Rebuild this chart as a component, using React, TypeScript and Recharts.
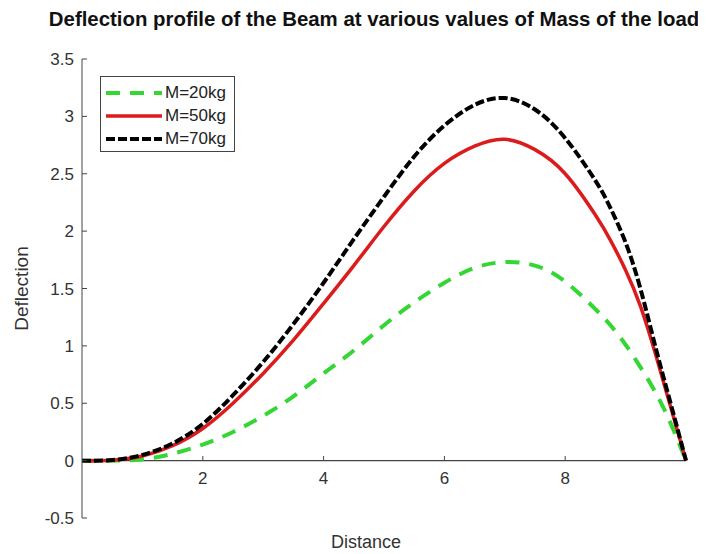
import { LineChart, Line, XAxis, YAxis, ReferenceLine } from 'recharts'

// distance along the beam
const distance = [0, 0.5, 1, 1.5, 2, 2.5, 3, 3.5, 4, 4.5, 5, 5.5, 6, 6.5, 7, 7.5, 8, 8.5, 8.75, 9, 9.25, 9.5, 9.75, 10]

// deflection for each load mass
const deflection20 = [0, 0, 0.01, 0.06, 0.14, 0.25, 0.39, 0.56, 0.76, 0.96, 1.18, 1.38, 1.55, 1.68, 1.73, 1.7, 1.56, 1.32, 1.18, 1.01, 0.81, 0.59, 0.32, 0]
const deflection50 = [0, 0.004, 0.04, 0.13, 0.28, 0.5, 0.76, 1.05, 1.37, 1.7, 2.04, 2.35, 2.59, 2.74, 2.8, 2.71, 2.5, 2.14, 1.92, 1.66, 1.34, 0.92, 0.46, 0]
const deflection70 = [0, 0.005, 0.05, 0.15, 0.32, 0.57, 0.86, 1.19, 1.55, 1.93, 2.3, 2.65, 2.92, 3.1, 3.16, 3.06, 2.81, 2.44, 2.2, 1.9, 1.49, 0.98, 0.49, 0]

const seriesNames = ['M=20kg', 'M=50kg', 'M=70kg']
const xTicks = [2, 4, 6, 8]
const yTicks = [-0.5, 0, 0.5, 1, 1.5, 2, 2.5, 3, 3.5]

const data = distance.map((d, i) => ({
  distance: d,
  m20: deflection20[i],
  m50: deflection50[i],
  m70: deflection70[i]
}))

const series = [
  { key: 'm20', name: seriesNames[0], color: '#33d633', dash: '14 10', width: 4 },
  { key: 'm50', name: seriesNames[1], color: '#dc1c1c', dash: undefined, width: 3.5 },
  { key: 'm70', name: seriesNames[2], color: '#000000', dash: '9 3', width: 4 }
]

const FONT = '"Liberation Sans", Arial, sans-serif'
const AXIS = '#444'
const TEXT = '#333'

// boxed legend in the upper left corner, like MATLAB's
function BoxLegend() {
  return (
    <div
      style={{
        position: 'absolute',
        left: 92,
        top: 68,
        border: '1px solid #444',
        background: '#fff',
        width: 129,
        padding: '4px 0 1px 4px',
        fontFamily: FONT
      }}
    >
      {series.map(s => (
        <div key={s.key} style={{ display: 'flex', alignItems: 'center', height: 23 }}>
          <svg width={58} height={10}>
            <line x1={1} x2={57} y1={5} y2={5} stroke={s.color} strokeWidth={s.width} strokeDasharray={s.dash} />
          </svg>
          <span style={{ marginLeft: 2, fontSize: 17, color: '#222', lineHeight: '17px' }}>{s.name}</span>
        </div>
      ))}
    </div>
  )
}

export default function App() {
  return (
    <div style={{ position: 'relative', width: 698, height: 546, fontFamily: FONT }}>
      <div
        style={{
          position: 'absolute',
          top: 0,
          left: 366,
          transform: 'translateX(-50%)',
          whiteSpace: 'nowrap',
          fontWeight: 'bold',
          fontSize: 20.4,
          color: '#111'
        }}
      >
        Deflection profile of the Beam at various values of Mass of the load
      </div>
      <LineChart width={698} height={546} data={data} margin={{ top: 51, right: 20, left: 0, bottom: 0 }}>
        <XAxis
          dataKey="distance"
          type="number"
          domain={[0, 10]}
          tick={false}
          axisLine={false}
          tickLine={false}
          height={36}
          label={{ value: 'Distance', position: 'insideBottom', offset: 6, dx: -18, fontSize: 18, fill: TEXT, fontFamily: FONT }}
        />
        <YAxis
          type="number"
          domain={[-0.5, 3.5]}
          ticks={yTicks}
          width={74}
          stroke={AXIS}
          tickSize={-5}
          tickMargin={13}
          tick={{ fontSize: 17, fill: TEXT, fontFamily: FONT }}
          label={{
            value: 'Deflection',
            angle: -90,
            position: 'insideLeft',
            offset: 13,
            fontSize: 19,
            fill: TEXT,
            fontFamily: FONT,
            style: { textAnchor: 'middle' }
          }}
        />
        <ReferenceLine y={0} stroke={AXIS} strokeWidth={1.2} />
        {xTicks.map(t => (
          <ReferenceLine
            key={t}
            segment={[{ x: t, y: 0 }, { x: t, y: 0.04 }]}
            stroke={AXIS}
            label={{ value: String(t), position: 'bottom', offset: 11, fontSize: 17, fill: TEXT, fontFamily: FONT }}
          />
        ))}
        {series.map(s => (
          <Line
            key={s.key}
            type="natural"
            dataKey={s.key}
            name={s.name}
            stroke={s.color}
            strokeWidth={s.width}
            strokeDasharray={s.dash}
            dot={false}
            activeDot={false}
            isAnimationActive={false}
          />
        ))}
      </LineChart>
      <BoxLegend />
    </div>
  )
}
